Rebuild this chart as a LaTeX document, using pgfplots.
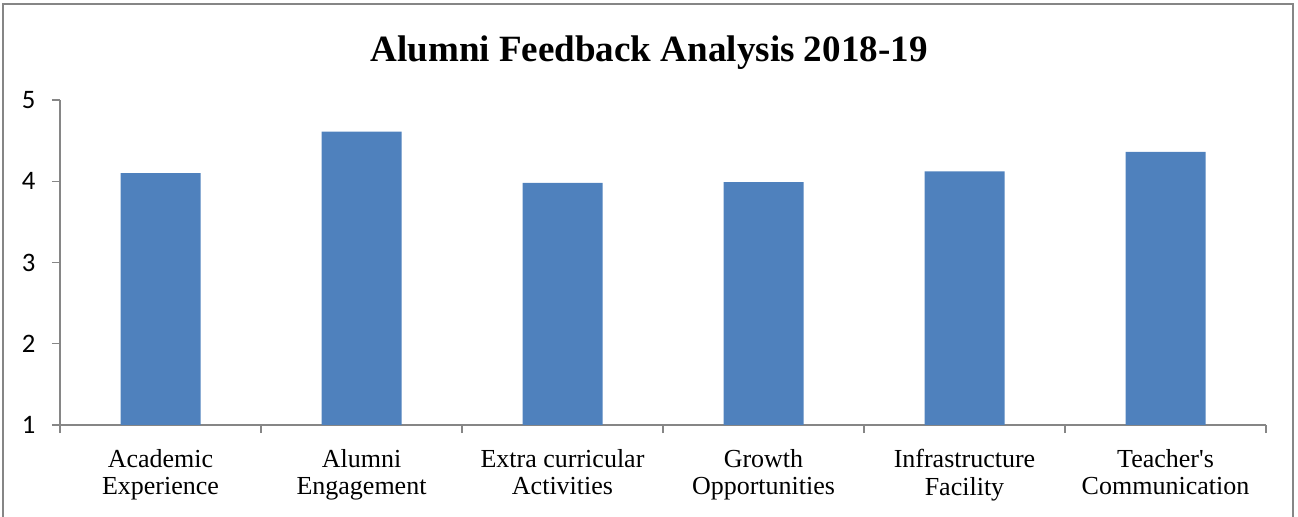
\documentclass[border=0pt]{standalone}
\usepackage{fontspec}
\setmainfont{Liberation Serif}
\newfontfamily\calib{Carlito}
\usepackage{pgfplots}
\pgfplotsset{compat=1.18}
\definecolor{barblue}{HTML}{4F81BD}
\definecolor{axgray}{HTML}{868686}
\begin{document}
\begin{tikzpicture}
\path[use as bounding box] (0,0) rectangle (973.5pt,387.75pt);
\draw[axgray, line width=1.5pt] (2.6pt,-5pt) -- (2.6pt,384.75pt) -- (970pt,384.75pt) -- (970pt,-5pt);
\begin{axis}[
  at={(45pt,69pt)}, anchor=south west,
  scale only axis, width=904.5pt, height=243.75pt,
  xmin=-0.5, xmax=5.5, ymin=1, ymax=5,
  ytick={1,2,3,4,5},
  yticklabel={\calib\fontsize{20}{22}\selectfont\pgfmathprintnumber{\tick}},
  xtick={-0.5,0.5,1.5,2.5,3.5,4.5,5.5},
  x tick label as interval,
  xticklabels={{Academic\\Experience},{Alumni\\Engagement},{Extra curricular\\Activities},{Growth\\Opportunities},{Infrastructure\\Facility},{Teacher\textquotesingle s\\Communication}},
  xticklabel style={align=center, font=\fontsize{19.5}{20.6}\selectfont, yshift=-8.8pt},
  yticklabel style={xshift=-9pt},
  /pgf/number format/assume math mode=true,
  axis x line*=bottom, axis y line*=left,
  axis line style={axgray, line width=1pt},
  tick align=outside, major tick length=6pt,
  tick style={axgray, line width=1pt},
  ybar, bar width=60pt, bar shift=0pt,
]
\addplot[fill=barblue, draw=none] coordinates {(0,4.10) (1,4.61) (2,3.98) (3,3.99) (4,4.12) (5,4.36)};
\end{axis}
\node[font=\bfseries\fontsize{27.8}{30}\selectfont, anchor=base] at (486.75pt,341.25pt) {Alumni Feedback Analysis 2018-19};
\end{tikzpicture}
\end{document}
